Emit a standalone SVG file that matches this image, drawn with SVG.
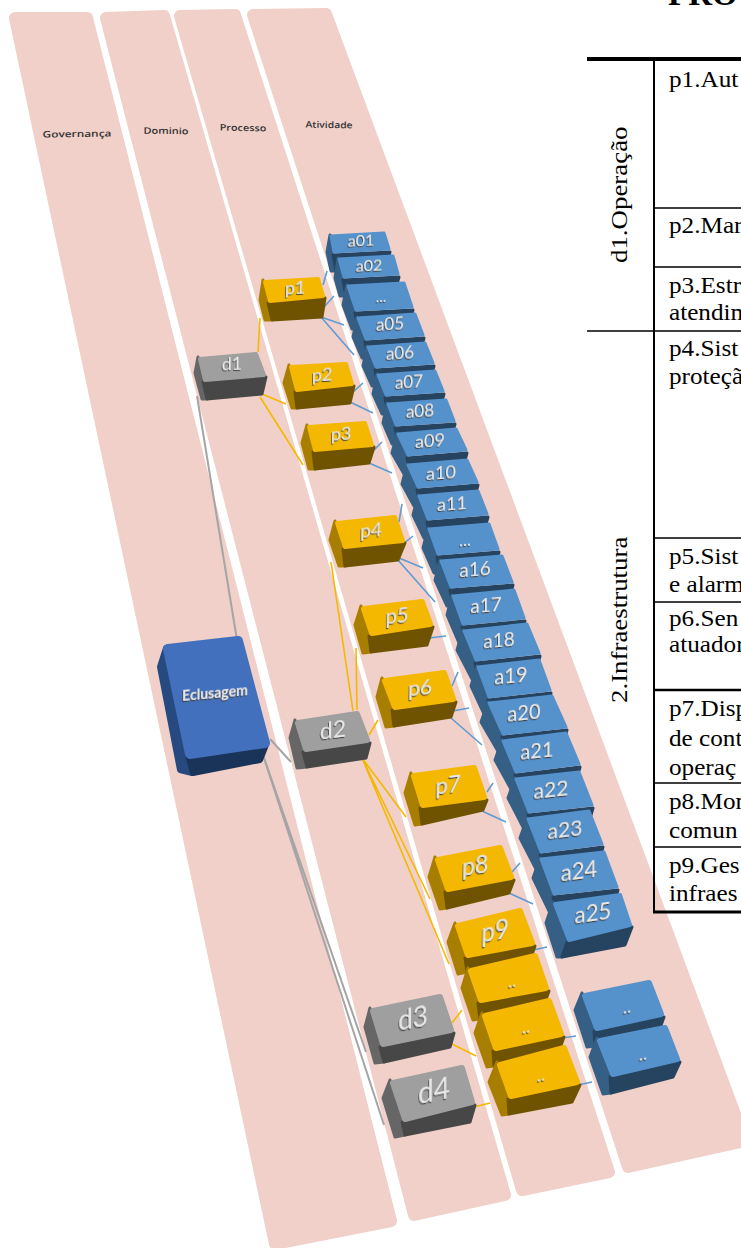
<svg xmlns="http://www.w3.org/2000/svg" width="741" height="1248" viewBox="0 0 741 1248">
<style>
.bg{fill:#fff}
.lane{fill:#f0d0c8;stroke:#f0d0c8;stroke-width:12;stroke-linejoin:round}
.ll{font-family:"Open Sans",sans-serif;font-size:9px;font-weight:600;fill:#333;text-anchor:middle}
.s{stroke-linejoin:round;stroke-width:3}
.m{stroke-width:4}.h{stroke-width:6}.x{stroke-width:10}
.bt{fill:#5591cb;stroke:#5591cb}.bl{fill:#355f85;stroke:#355f85}.bf{fill:#26435f;stroke:#26435f}
.yt{fill:#f5b800;stroke:#f5b800}.yl{fill:#a87e00;stroke:#a87e00}.yf{fill:#6f5300;stroke:#6f5300}
.gt{fill:#9f9f9f;stroke:#9f9f9f}.gl{fill:#666;stroke:#666}.gf{fill:#474747;stroke:#474747}
.rt{fill:#4270bd;stroke:#4270bd}.rl{fill:#264a80;stroke:#264a80}.rf{fill:#1a3358;stroke:#1a3358}
.n{font-family:"Lato","Open Sans",sans-serif;fill:#e8e8e8;text-anchor:middle;filter:url(#sh)}
.cb,.cy,.cg{fill:none;stroke-width:1.6}
.cb{stroke:#5f9bd5}.cy{stroke:#f5b800}.cg{stroke:#a5a5a5;stroke-width:2}
.tt{font-family:"Liberation Serif",serif;font-size:24px;fill:#000}
.tl{stroke:#000;fill:none}
</style>
<defs><filter id="sh" x="-20%" y="-20%" width="150%" height="150%"><feDropShadow dx="-0.7" dy="1.1" stdDeviation="0.3" flood-color="#3c3c3c"/></filter></defs>
<rect class="bg" width="741" height="1248"/>
<g id="lanes">
<polygon class="lane" points="15,18 87,18 391,1221 275,1244"/>
<polygon class="lane" points="106,18 164,16 505,1195 414,1215"/>
<polygon class="lane" points="180,16 235,15 609,1172 522,1190"/>
<polygon class="lane" points="253,15 326,14 745,1141 628,1167"/>
<text class="ll" transform="matrix(1.32 -.02 0 1 77 137)">Governança</text>
<text class="ll" transform="matrix(1.22 .02 0 1 166 134)">Dominio</text>
<text class="ll" transform="matrix(1.2 .02 0 1 243 131)">Processo</text>
<text class="ll" transform="matrix(1.15 .02 0 1 329 128)">Atividade</text>
</g>
<g id="connectors">
<path class="cg" d="M197,396L237,640M270,739L291,762M262,752L366,1052M262,752L384,1125"/>
<path class="cy" d="M258,352L260,318M262,394L286,404M260,397L303,465M353,711L331,562M357,710L356,648M369,735L378,720M362,758L406,817M362,758L430,899M362,758L449,964M452,1023L462,1010M450,1043L476,1056M474,1107L490,1103"/>
<path class="cb" d="M323,285L327,271M324,307L334,296M321,317L344,325M321,317L354,355M352,393L363,383M350,402L373,413M372,452L382,442M369,463L392,473M399,522L402,504M403,544L413,536M399,558L423,568M398,560L435,602M429,638L446,636M452,686L458,672M453,711L469,708M451,718L482,745M487,792L493,783M482,811L506,822M512,872L520,863M509,893L533,904M533,950L547,947M562,1038L576,1036M578,1085L592,1082"/>
</g>
<g id="eclusagem"><polygon class="s h rl" points="166,648 160,667 180,770 192,773 190,755"/><polygon class="s h rf" points="188,755 266,745 260,760 193,773"/><polygon class="s x rt" points="168,649 238,641 265,743 190,754"/><text class="n" font-weight="700" font-size="14" transform="matrix(1 -.09 0 1.1 215 698)">Eclusagem</text></g>
<g id="d1"><polygon class="s gl" points="198,357 195,373 202,399 207,399 203,382"/><polygon class="s gf" points="203,382 266,377 262,394 207,399"/><polygon class="s m gt" points="200,359 256,354 264,375 205,380"/><text class="n" font-size="18" transform="matrix(1 -.04 0 1 232 370)">d1</text></g>
<g id="d2"><polygon class="s gl" points="295,720 290,738 297,768 307,767 303,752"/><polygon class="s gf" points="303,752 370,743 366,758 307,767"/><polygon class="s h gt" points="298,723 357,714 367,740 306,749"/><text class="n" font-size="23" transform="matrix(1 -.12 0 1 333 738)">d2</text></g>
<g id="d3"><polygon class="s gl" points="370,1008 365,1027 375,1063 384,1062 380,1047"/><polygon class="s gf" points="380,1047 454,1033 450,1047 384,1062"/><polygon class="s h gt" points="373,1011 440,997 451,1030 383,1044"/><text class="n" font-size="26" transform="matrix(1 -.18 0 1.1 413 1028)">d3</text></g>
<g id="d4"><polygon class="s gl" points="390,1080 383,1098 395,1137 405,1135 402,1122"/><polygon class="s gf" points="402,1122 475,1105 470,1122 405,1135"/><polygon class="s h gt" points="393,1083 462,1068 472,1102 405,1119"/><text class="n" font-size="28" transform="matrix(1 -.2 0 1.1 434 1101)">d4</text></g>
<g id="a01"><polygon class="s bl" points="330,235 327,252 331,271 336,271 333,255"/><polygon class="s bf" points="333,255 390,252 386,266 336,271"/><polygon class="s bt" points="331,236 384,233 389,249 334,252"/><text class="n" font-size="16" transform="matrix(1 -.05 0 1 361 246)">a01</text></g>
<g id="a02"><polygon class="s bl" points="338,258 335,278 340,296 346,296 343,280"/><polygon class="s bf" points="343,280 399,277 395,291 346,296"/><polygon class="s bt" points="339,259 393,256 398,274 344,277"/><text class="n" font-size="16" transform="matrix(1 -.05 0 1 369 271)">a02</text></g>
<g id="a03"><polygon class="s bl" points="347,285 343,305 352,329 358,329 355,313"/><polygon class="s bf" points="355,313 413,310 409,324 358,329"/><polygon class="s bt" points="348,286 404,283 412,307 356,310"/><text class="n" font-size="15" transform="matrix(1 -.05 0 1 381 302)">...</text></g>
<g id="a05"><polygon class="s bl" points="357,317 353,337 362,358 368,358 365,342"/><polygon class="s bf" points="365,342 424,338 420,352 368,358"/><polygon class="s bt" points="358,318 415,314 423,335 366,339"/><text class="n" font-size="17" transform="matrix(1 -.06 0 1 390 330)">a05</text></g>
<g id="a06"><polygon class="s bl" points="367,346 363,366 372,386 378,386 375,370"/><polygon class="s bf" points="375,370 434,366 430,380 378,386"/><polygon class="s bt" points="368,347 425,343 433,363 376,367"/><text class="n" font-size="17" transform="matrix(1 -.06 0 1 400 359)">a06</text></g>
<g id="a07"><polygon class="s bl" points="377,374 373,394 382,414 388,414 385,398"/><polygon class="s bf" points="385,398 444,394 440,408 388,414"/><polygon class="s bt" points="378,375 435,371 443,391 386,395"/><text class="n" font-size="17" transform="matrix(1 -.06 0 1 409 388)">a07</text></g>
<g id="a08"><polygon class="s bl" points="387,403 383,423 392,444 398,444 395,428"/><polygon class="s bf" points="395,428 455,424 451,438 398,444"/><polygon class="s bt" points="388,404 446,400 454,421 396,425"/><text class="n" font-size="17" transform="matrix(1 -.06 0 1 420 417)">a08</text></g>
<g id="a09"><polygon class="s bl" points="397,433 392,453 404,474 410,474 407,458"/><polygon class="s bf" points="407,458 467,453 463,467 410,474"/><polygon class="s bt" points="398,434 456,429 466,450 408,455"/><text class="n" font-size="18" transform="matrix(1 -.07 0 1 430 447)">a09</text></g>
<g id="a10"><polygon class="s bl" points="407,464 402,484 414,506 420,506 417,490"/><polygon class="s bf" points="417,490 478,485 474,499 420,506"/><polygon class="s bt" points="408,465 467,460 477,482 418,487"/><text class="n" font-size="18" transform="matrix(1 -.07 0 1 441 479)">a10</text></g>
<g id="a11"><polygon class="s bl" points="418,495 413,515 424,538 430,538 427,522"/><polygon class="s bf" points="427,522 488,517 484,531 430,538"/><polygon class="s bt" points="419,496 478,491 487,514 428,519"/><text class="n" font-size="18" transform="matrix(1 -.07 0 1 452 510)">a11</text></g>
<g id="a12"><polygon class="s bl" points="428,528 423,548 434,573 440,573 437,557"/><polygon class="s bf" points="437,557 499,552 495,566 440,573"/><polygon class="s bt" points="429,529 489,524 498,549 438,554"/><text class="n" font-size="17" transform="matrix(1 -.07 0 1 465 546)">...</text></g>
<g id="a16"><polygon class="s bl" points="440,560 435,580 447,606 453,606 450,590"/><polygon class="s bf" points="450,590 513,585 509,599 453,606"/><polygon class="s bt" points="441,561 502,556 512,582 451,587"/><text class="n" font-size="19" transform="matrix(1 -.08 0 1.05 475 576)">a16</text></g>
<g id="a17"><polygon class="s bl" points="452,595 447,615 459,643 465,643 462,627"/><polygon class="s bf" points="462,627 525,621 521,635 465,643"/><polygon class="s bt" points="453,596 514,590 524,618 463,624"/><text class="n" font-size="19" transform="matrix(1 -.08 0 1.05 486 612)">a17</text></g>
<g id="a18"><polygon class="s bl" points="463,630 457,650 472,679 478,679 475,663"/><polygon class="s bf" points="475,663 540,656 536,670 478,679"/><polygon class="s bt" points="464,631 527,624 539,653 476,660"/><text class="n" font-size="19" transform="matrix(1 -.09 0 1.05 499 647)">a18</text></g>
<g id="a19"><polygon class="s bl" points="477,666 471,686 485,716 491,716 488,700"/><polygon class="s bf" points="488,700 551,693 547,707 491,716"/><polygon class="s bt" points="478,667 539,660 550,690 489,697"/><text class="n" font-size="20" transform="matrix(1 -.09 0 1.05 511 683)">a19</text></g>
<g id="a20"><polygon class="s bl" points="488,702 481,722 499,753 505,753 502,737"/><polygon class="s bf" points="502,737 567,730 563,744 505,753"/><polygon class="s bt" points="489,703 552,696 566,727 503,734"/><text class="n" font-size="20" transform="matrix(1 -.1 0 1.05 524 720)">a20</text></g>
<g id="a21"><polygon class="s bl" points="502,740 495,760 512,791 518,791 515,775"/><polygon class="s bf" points="515,775 580,767 576,781 518,791"/><polygon class="s bt" points="503,741 566,733 579,764 516,772"/><text class="n" font-size="20" transform="matrix(1 -.1 0 1.05 537 758)">a21</text></g>
<g id="a22"><polygon class="s bl" points="515,778 508,798 525,831 531,831 528,815"/><polygon class="s bf" points="528,815 593,808 589,822 531,831"/><polygon class="s bt" points="516,779 579,772 592,805 529,812"/><text class="n" font-size="21" transform="matrix(1 -.11 0 1.05 551 797)">a22</text></g>
<g id="a23"><polygon class="s bl" points="527,818 520,838 537,871 543,871 540,855"/><polygon class="s bf" points="540,855 603,847 599,861 543,871"/><polygon class="s bt" points="528,819 589,811 602,844 541,852"/><text class="n" font-size="21" transform="matrix(1 -.12 0 1.05 565 837)">a23</text></g>
<g id="a24"><polygon class="s bl" points="540,858 533,878 550,913 556,913 553,897"/><polygon class="s bf" points="553,897 618,890 614,904 556,913"/><polygon class="s bt" points="541,859 604,852 617,887 554,894"/><text class="n" font-size="22" transform="matrix(1 -.13 0 1.05 579 879)">a24</text></g>
<g id="a25"><polygon class="s bl" points="553,902 546,923 557,957 562,957 567,942"/><polygon class="s bf" points="567,942 632,927 625,945 562,957"/><polygon class="s m bt" points="555,904 620,895 630,925 569,940"/><text class="n" font-size="22" transform="matrix(1 -.14 0 1.05 593 921)">a25</text></g>
<g id="p1"><polygon class="s yl" points="263,280 260,300 265,320 272,320 268,303"/><polygon class="s yf" points="268,303 325,298 322,317 272,320"/><polygon class="s m yt" points="265,282 318,279 323,296 270,301"/><text class="n" font-size="18" transform="matrix(1 -.05 -.03 1 295 294)">p1</text></g>
<g id="p2"><polygon class="s yl" points="289,365 284,383 292,408 297,408 295,392"/><polygon class="s yf" points="295,392 354,386 350,403 297,408"/><polygon class="s m yt" points="291,367 346,364 352,384 297,390"/><text class="n" font-size="18" transform="matrix(1 -.06 -.03 1 322 381)">p2</text></g>
<g id="p3"><polygon class="s yl" points="307,425 302,443 309,469 315,469 313,452"/><polygon class="s yf" points="313,452 374,447 369,463 315,469"/><polygon class="s m yt" points="309,427 365,423 372,445 315,450"/><text class="n" font-size="18" transform="matrix(1 -.06 -.03 1 341 440)">p3</text></g>
<g id="p4"><polygon class="s yl" points="335,521 330,540 339,566 345,566 343,549"/><polygon class="s yf" points="343,549 405,543 398,560 345,566"/><polygon class="s m yt" points="337,523 395,517 403,541 345,547"/><text class="n" font-size="19" transform="matrix(1 -.09 -.03 1 371 537)">p4</text></g>
<g id="p5"><polygon class="s yl" points="361,606 355,625 363,653 371,652 369,636"/><polygon class="s yf" points="369,636 433,627 427,645 371,652"/><polygon class="s h yt" points="364,609 422,602 430,624 372,633"/><text class="n" font-size="20" transform="matrix(1 -.1 -.03 1.05 397 623)">p5</text></g>
<g id="p6"><polygon class="s yl" points="382,678 377,697 386,727 394,726 392,710"/><polygon class="s yf" points="392,710 456,702 451,717 394,726"/><polygon class="s h yt" points="385,681 444,673 453,699 395,707"/><text class="n" font-size="21" transform="matrix(1 -.11 -.03 1.05 420 695)">p6</text></g>
<g id="p7"><polygon class="s yl" points="411,773 405,793 415,825 422,824 420,808"/><polygon class="s yf" points="420,808 487,800 483,810 422,824"/><polygon class="s h yt" points="414,776 474,768 484,797 423,805"/><text class="n" font-size="22" transform="matrix(1 -.13 -.03 1.05 448 793)">p7</text></g>
<g id="p8"><polygon class="s yl" points="435,857 429,877 440,909 447,908 445,892"/><polygon class="s yf" points="445,892 514,880 509,893 447,908"/><polygon class="s h yt" points="438,860 500,848 511,877 448,889"/><text class="n" font-size="23" transform="matrix(1 -.16 -.03 1.1 475 874)">p8</text></g>
<g id="p9"><polygon class="s yl" points="455,923 448,942 458,974 467,972 465,958"/><polygon class="s yf" points="465,958 535,946 530,960 467,972"/><polygon class="s h yt" points="458,926 520,911 532,943 468,955"/><text class="n" font-size="24" transform="matrix(1 -.18 -.03 1.1 495 940)">p9</text></g>
<g id="p10"><polygon class="s yl" points="468,968 462,988 473,1020 480,1019 478,1003"/><polygon class="s yf" points="478,1003 549,991 544,1005 480,1019"/><polygon class="s h yt" points="471,971 535,956 546,988 481,1000"/><text class="n" font-size="18" transform="matrix(1 -.18 0 1 512 987)">..</text></g>
<g id="p11"><polygon class="s yl" points="482,1013 475,1033 487,1067 494,1066 493,1051"/><polygon class="s yf" points="493,1051 564,1037 559,1051 494,1066"/><polygon class="s h yt" points="485,1016 549,1001 561,1034 496,1048"/><text class="n" font-size="18" transform="matrix(1 -.18 0 1 526 1033)">..</text></g>
<g id="p12"><polygon class="s yl" points="497,1062 489,1082 502,1115 509,1114 508,1099"/><polygon class="s yf" points="508,1099 580,1085 572,1102 509,1114"/><polygon class="s h yt" points="500,1065 564,1048 577,1082 511,1096"/><text class="n" font-size="18" transform="matrix(1 -.18 0 1 541 1081)">..</text></g>
<g id="a26"><polygon class="s bl" points="582,993 575,1010 587,1047 595,1046 594,1031"/><polygon class="s bf" points="594,1031 664,1017 659,1031 595,1046"/><polygon class="s h bt" points="585,996 649,983 661,1014 597,1028"/><text class="n" font-size="18" transform="matrix(1 -.18 0 1 627 1013)">..</text></g>
<g id="a27"><polygon class="s bl" points="597,1038 590,1057 603,1094 611,1093 610,1077"/><polygon class="s bf" points="610,1077 680,1062 673,1077 611,1093"/><polygon class="s h bt" points="600,1041 665,1028 677,1059 613,1074"/><text class="n" font-size="18" transform="matrix(1 -.18 0 1 643 1060)">..</text></g>
<g id="table">
<path class="tl" stroke-width="4" d="M587,59H741"/>
<path class="tl" stroke-width="2" d="M654,60V912"/>
<path class="tl" stroke-width="1.5" d="M654,208H741M654,267H741M587,331H741M654,538H741M654,602H741M654,783H741M654,847H741"/>
<path class="tl" stroke-width="2.5" d="M654,690H741"/>
<path class="tl" stroke-width="3" d="M653,912H741"/>
<text class="tt" transform="translate(669,87) scale(1.05,1)">p1.Aut</text>
<text class="tt" transform="translate(669,233) scale(1.05,1)">p2.Mar</text>
<text class="tt" transform="translate(669,293) scale(1.05,1)">p3.Estr</text>
<text class="tt" transform="translate(669,320) scale(1.05,1)">atendim</text>
<text class="tt" transform="translate(669,356) scale(1.05,1)">p4.Sist</text>
<text class="tt" transform="translate(669,384) scale(1.05,1)">proteçã</text>
<text class="tt" transform="translate(669,564) scale(1.05,1)">p5.Sist</text>
<text class="tt" transform="translate(669,592) scale(1.05,1)">e alarm</text>
<text class="tt" transform="translate(669,626) scale(1.05,1)">p6.Sen</text>
<text class="tt" transform="translate(669,652) scale(1.05,1)">atuador</text>
<text class="tt" transform="translate(669,716) scale(1.05,1)">p7.Disp</text>
<text class="tt" transform="translate(669,746) scale(1.05,1)">de cont</text>
<text class="tt" transform="translate(669,775) scale(1.05,1)">operaç</text>
<text class="tt" transform="translate(669,809) scale(1.05,1)">p8.Mon</text>
<text class="tt" transform="translate(669,838) scale(1.05,1)">comun</text>
<text class="tt" transform="translate(669,873) scale(1.05,1)">p9.Ges</text>
<text class="tt" transform="translate(669,901) scale(1.05,1)">infraes</text>
<text class="tt" transform="translate(627,263) rotate(-90) scale(1.12,1)">d1.Operação</text>
<text class="tt" transform="translate(627,703) rotate(-90) scale(1.12,1)">2.Infraestrutura</text>
<text font-family="Liberation Serif,serif" font-weight="700" font-size="33" transform="translate(668,5)">PRO</text>
</g>
</svg>
